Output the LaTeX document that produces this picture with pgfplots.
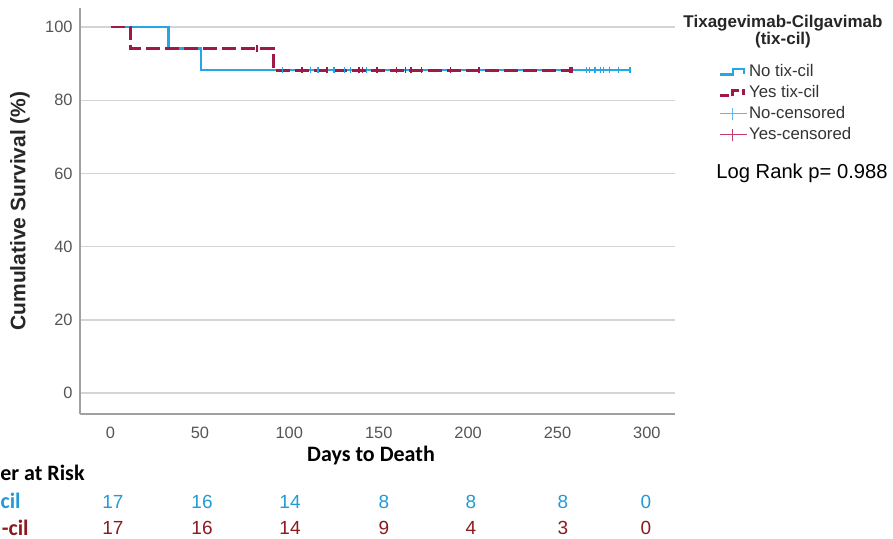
\documentclass[border=0pt]{standalone}
\usepackage{pgfplots}
\pgfplotsset{compat=1.18}
\usepackage{fontspec}
\setmainfont{Liberation Sans}
\newfontfamily\carlito{Carlito}
\definecolor{noblue}{RGB}{38,166,228}
\definecolor{yesred}{RGB}{158,24,72}
\definecolor{noblueL}{RGB}{95,182,240}
\definecolor{yesredL}{RGB}{196,60,110}
\definecolor{numblue}{RGB}{35,155,215}
\definecolor{numred}{RGB}{140,25,30}
\definecolor{gridgray}{RGB}{212,212,212}
\definecolor{axgray}{RGB}{160,160,160}
\definecolor{tickgray}{RGB}{85,85,85}
\begin{document}
\begin{tikzpicture}
\path[use as bounding box] (0,0) rectangle (446.5pt,-269.5pt);
\begin{scope}
\clip (0,0) rectangle (446.5pt,-269.5pt);
\begin{axis}[
  at={(40pt,-207pt)}, anchor=south west, scale only axis,
  width=297.5pt, height=203pt,
  xmin=-17.06, xmax=315.7, ymin=-5.74, ymax=105.2,
  axis x line=bottom, axis y line=left,
  axis line style={-, draw=axgray, line width=0.9pt},
  xtick={0,50,...,300}, ytick={0,20,...,100}, major tick length=0pt,
  ymajorgrids, grid style={gridgray, line width=0.7pt},
  tick label style={font=\fontsize{8.2}{10}\selectfont, text=tickgray},
  /pgf/number format/assume math mode=true,
  xticklabel style={inner sep=0pt, yshift=-6.2pt, anchor=north},
  yticklabel style={inner sep=0pt, xshift=-3.5pt, anchor=east},
  clip=false,
  legend cell align=left,
  legend style={at={(1.0723,0.8645)}, anchor=north west, draw=none, fill=none,
    inner sep=0pt, row sep=2pt, column sep=1pt,
    font=\fontsize{8.4}{10}\selectfont, text=black!80,
    nodes={inner sep=0pt, text height=6.5pt, text depth=2pt}},
]
\addplot[const plot, noblue, line width=1.25pt, forget plot]
  coordinates {(0,100)(32.5,94.12)(50.5,88.24)(291,88.24)};
\addplot[only marks, mark=|, mark size=1.7pt, noblue, mark options={line width=0.6pt}, forget plot]
  coordinates {(96,88.24)(112,88.24)(116,88.24)(125,88.24)(131,88.24)(134,88.24)(143,88.24)
  (266,88.24)(268,88.24)(271,88.24)(274,88.24)(275.5,88.24)(279,88.24)(284,88.24)(290.5,88.24)};
\addplot[const plot, yesred, line width=1.45pt, dash pattern=on 7pt off 2.5pt, forget plot]
  coordinates {(0,100)(11,94.12)(91,88.24)(257,88.24)};
\addplot[only marks, mark=|, mark size=1.7pt, yesred, mark options={line width=0.7pt}, forget plot]
  coordinates {(82,94.12)(107,88.24)(121,88.24)(139,88.24)(141,88.24)(149,88.24)
  (160,88.24)(165,88.24)(168,88.24)(174,88.24)(190,88.24)(206,88.24)(257,88.24)(257.5,88.24)(258,88.24)};
\addlegendimage{legend image code/.code={\draw[noblue, line width=1.1pt] (0pt,-1.3pt)--(6.5pt,-1.3pt)--(6.5pt,1.3pt)--(12pt,1.3pt)--(12pt,-1.2pt);}}
\addlegendentry{No tix-cil}
\addlegendimage{legend image code/.code={\draw[yesred, line width=1.2pt] (0pt,-1.3pt)--(4.5pt,-1.3pt) (6.5pt,-1.3pt)--(6.5pt,1.3pt)--(9.5pt,1.3pt) (12pt,1.8pt)--(12pt,-0.8pt);}}
\addlegendentry{Yes tix-cil}
\addlegendimage{legend image code/.code={\draw[noblueL, line width=0.5pt] (0pt,0pt)--(13.5pt,0pt) (6.5pt,-3.2pt)--(6.5pt,3.2pt);}}
\addlegendentry{No-censored}
\addlegendimage{legend image code/.code={\draw[yesredL, line width=0.5pt] (0pt,0pt)--(13.5pt,0pt) (6.5pt,-3.2pt)--(6.5pt,3.2pt);}}
\addlegendentry{Yes-censored}
\end{axis}
% titles and labels
\node[rotate=90, font=\bfseries\fontsize{10.5}{12}\selectfont, text=black!85] at (10pt,-105.5pt) {Cumulative Survival (\%)};
\node[font=\carlito\bfseries\fontsize{11}{13}\selectfont] at (185.5pt,-228pt) {Days to Death};
\node[anchor=base, font=\bfseries\fontsize{8.5}{10}\selectfont, text=black!85, inner sep=0pt] at (391.5pt,-14pt) {Tixagevimab-Cilgavimab};
\node[anchor=base, font=\bfseries\fontsize{8.5}{10}\selectfont, text=black!85, inner sep=0pt] at (391.5pt,-22.5pt) {(tix-cil)};
\node[anchor=west, inner sep=0pt, font=\fontsize{10.1}{12}\selectfont] at (358pt,-86.5pt) {Log Rank p= 0.988};
% numbers at risk (left part cut off in the reference)
\node[anchor=east, inner sep=0pt, font=\carlito\bfseries\fontsize{11}{13}\selectfont] at (42.5pt,-236.5pt) {er at Risk};
\node[anchor=east, inner sep=0pt, font=\carlito\bfseries\fontsize{11}{13}\selectfont, text=numblue] at (10.5pt,-250.5pt) {cil};
\node[anchor=east, inner sep=0pt, font=\carlito\bfseries\fontsize{11}{13}\selectfont, text=numred] at (14.5pt,-264pt) {-cil};
\foreach \x/\a/\b in {113/17/17, 202/16/16, 290/14/14, 384/8/9, 471/8/4, 563/8/3, 646/0/0} {
  \node[font=\fontsize{9.5}{12}\selectfont, text=numblue] at (\x*0.5pt,-251pt) {\a};
  \node[font=\fontsize{9.5}{12}\selectfont, text=numred] at (\x*0.5pt,-264pt) {\b};
}
\end{scope}
\end{tikzpicture}
\end{document}
